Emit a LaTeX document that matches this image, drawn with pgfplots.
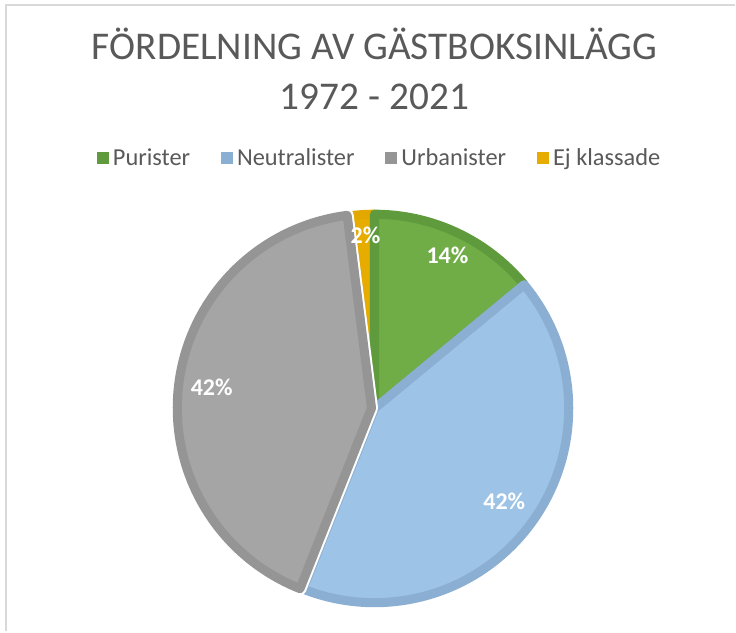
\documentclass[border=0pt]{standalone}
\usepackage{pgfplots}
\pgfplotsset{compat=1.18}
\usepackage{pgfplotstable}
\usepackage{fontspec}
\setmainfont{Carlito}
\definecolor{txt}{HTML}{595959}
\definecolor{gF}{HTML}{70AD47}
\definecolor{gB}{HTML}{5F9B3D}
\definecolor{bF}{HTML}{9DC3E6}
\definecolor{bB}{HTML}{8BAFD3}
\definecolor{aF}{HTML}{A5A5A5}
\definecolor{aB}{HTML}{959595}
\definecolor{yF}{HTML}{E6AC00}
\definecolor{yB}{HTML}{E2A800}
\definecolor{framec}{HTML}{D9D9D9}

\pgfplotstableread{
name value
Purister 14
Neutralister 42
Urbanister 42
Ejklassade 2
}\piedata
\pgfplotstablegetelem{0}{value}\of\piedata \let\vA\pgfplotsretval
\pgfplotstablegetelem{1}{value}\of\piedata \let\vB\pgfplotsretval
\pgfplotstablegetelem{2}{value}\of\piedata \let\vC\pgfplotsretval
\pgfplotstablegetelem{3}{value}\of\piedata \let\vD\pgfplotsretval
\pgfmathsetmacro\aA{90}
\pgfmathsetmacro\aB{\aA-3.6*\vA}
\pgfmathsetmacro\aC{\aB-3.6*\vB}
\pgfmathsetmacro\aD{\aC-3.6*\vC}
\pgfmathsetmacro\aE{\aD-3.6*\vD}

\begin{document}%
\begin{tikzpicture}
\begin{axis}[
  scale only axis, width=552pt, height=474pt,
  xmin=0, xmax=736, ymin=0, ymax=632,
  hide axis, clip=false,
  legend image code/.code={\path[#1, draw=none] (0pt,-4.6pt) rectangle (9.2pt,4.6pt);},
  legend columns=4,
  legend cell align=left,
  legend style={at={(axis cs:381,474)}, anchor=center, draw=none, fill=none,
    font=\fontsize{18.3}{21}\selectfont\color{txt},
    nodes={inner xsep=3pt},
    /tikz/every even column/.append style={column sep=20pt}},
]
\path (axis cs:0,0) rectangle (axis cs:736,632);
% frame
\draw[framec, line width=1.5pt] (axis cs:6,0) -- (axis cs:6,627) -- (axis cs:736,627);

% legend images
\addlegendimage{fill=gB}
\addlegendimage{fill=bB}
\addlegendimage{fill=aB}
\addlegendimage{fill=yF}

% slices
\addplot[forget plot, fill=yF, draw=yB, line width=6.8pt, line join=round, domain=\aE:\aD, samples=10, variable=\t]
  ({375+194.5*cos(\t)}, {223+194.5*sin(\t)}) -- (axis cs:375,223) -- cycle;
\addplot[forget plot, fill=gF, draw=gB, line width=6.8pt, line join=round, domain=\aB:\aA, samples=60, variable=\t]
  ({375+194.5*cos(\t)}, {223+194.5*sin(\t)}) -- (axis cs:375,223) -- cycle;
\addplot[forget plot, fill=bF, draw=bB, line width=6.8pt, line join=round, domain=\aC:\aB, samples=120, variable=\t]
  ({375+194.5*cos(\t)}, {223+194.5*sin(\t)}) -- (axis cs:375,223) -- cycle;
\addplot[forget plot, fill=white, draw=white, line width=9.8pt, line join=round, domain=\aD:\aC, samples=120, variable=\t]
  ({372+194.5*cos(\t)}, {223.4+194.5*sin(\t)}) -- (axis cs:372,223.4) -- cycle;
\addplot[forget plot, fill=aF, draw=aB, line width=6.8pt, line join=round, domain=\aD:\aC, samples=120, variable=\t]
  ({372+194.5*cos(\t)}, {223.4+194.5*sin(\t)}) -- (axis cs:372,223.4) -- cycle;

\legend{Purister, Neutralister, Urbanister, Ej klassade}

% title
\node[anchor=base, text=txt, font=\fontsize{29.5}{35}\selectfont] at (axis cs:375,572.5) {FÖRDELNING AV GÄSTBOKSINLÄGG};
\node[anchor=base, text=txt, font=\fontsize{29.5}{35}\selectfont] at (axis cs:375,522.5) {1972 - 2021};

% data labels
\node[text=white, font=\bfseries\fontsize{18}{20}\selectfont] at (axis cs:448,376) {14\%};
\node[text=white, font=\bfseries\fontsize{18}{20}\selectfont] at (axis cs:366,396) {2\%};
\node[text=white, font=\bfseries\fontsize{18}{20}\selectfont] at (axis cs:212,244) {42\%};
\node[text=white, font=\bfseries\fontsize{18}{20}\selectfont] at (axis cs:505,130) {42\%};
\end{axis}
\end{tikzpicture}%
\end{document}
